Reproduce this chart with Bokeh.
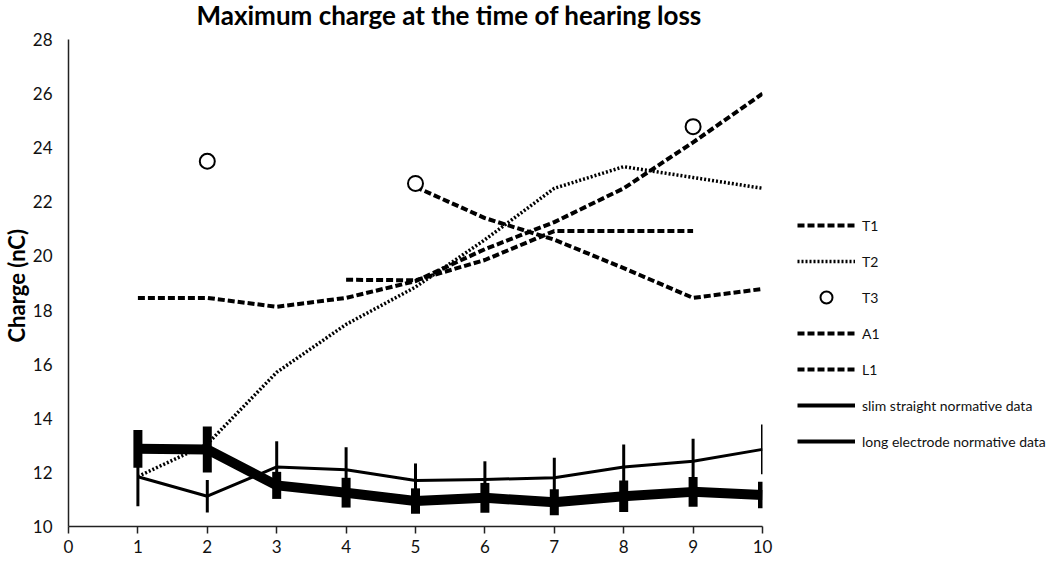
from bokeh.plotting import figure
from bokeh.models import Legend, LegendItem, Range1d, FixedTicker, Label, Title
from bokeh.embed import file_html
from bokeh.resources import INLINE

# ---- data ----
x_all = [1, 2, 3, 4, 5, 6, 7, 8, 9, 10]
t1_x = [1, 2, 3, 4, 5, 6, 7, 8, 9, 10]
t1_y = [18.45, 18.45, 18.12, 18.45, 19.07, 20.25, 21.25, 22.5, 24.2, 26.0]
t2_x = [1, 2, 3, 4, 5, 6, 7, 8, 9, 10]
t2_y = [11.85, 13.05, 15.7, 17.47, 18.85, 20.6, 22.5, 23.3, 22.9, 22.5]
t3_x = [2, 5, 9]
t3_y = [23.5, 22.68, 24.78]
a1_x = [4, 5, 6, 7, 8, 9]
a1_y = [19.12, 19.1, 19.85, 20.92, 20.92, 20.92]
l1_x = [5, 6, 7, 8, 9, 10]
l1_y = [22.55, 21.4, 20.6, 19.55, 18.45, 18.78]
slim_y = [11.84, 11.12, 12.2, 12.1, 11.7, 11.74, 11.8, 12.2, 12.41, 12.85]
slim_err = [1.09, 0.6, 0.95, 0.83, 0.63, 0.67, 0.74, 0.83, 0.83, 0.92]
long_y = [12.87, 12.85, 11.52, 11.25, 10.94, 11.06, 10.9, 11.12, 11.28, 11.16]
long_err = [0.7, 0.85, 0.5, 0.55, 0.47, 0.55, 0.48, 0.58, 0.55, 0.49]
x_ticks = [0, 1, 2, 3, 4, 5, 6, 7, 8, 9, 10]
y_ticks = [10, 12, 14, 16, 18, 20, 22, 24, 26, 28]
title_text = "Maximum charge at the time of hearing loss"
y_label = "Charge (nC)"
names = ["T1", "T2", "T3", "A1", "L1", "slim straight normative data", "long electrode normative data"]

FONT = "Lato"
FRAME_H = 521

# y range extends a little above 28 so that the title can sit inside the frame;
# the axis itself is bounded to 10..28
p = figure(frame_width=694, frame_height=FRAME_H, output_backend="svg", toolbar_location=None,
           x_range=Range1d(0, 10), y_range=Range1d(10, 29.257),
           min_border_left=58, min_border_top=5, min_border_bottom=0, min_border_right=286)
p.background_fill_color = "white"
p.border_fill_color = "white"
p.outline_line_color = None
p.xgrid.visible = False
p.ygrid.visible = False

title = Label(x=128, y=FRAME_H - 9, x_units="screen", y_units="screen", text=title_text,
              text_font=FONT, text_font_size="26px", text_font_style="bold",
              text_color="black", text_align="left", text_baseline="alphabetic")
p.add_layout(title)

# y-axis title as a side title so that it can be placed along the axis
ytitle = Title(text=y_label, text_font=FONT, text_font_size="22px", text_font_style="bold",
               text_color="black", align="left", offset=184, standoff=0)
p.add_layout(ytitle, "left")

for ax in (p.xaxis[0], p.yaxis[0]):
    ax.axis_line_color = "#222222"
    ax.axis_line_width = 1.5
    ax.major_label_text_font = FONT
    ax.major_label_text_font_size = "17px"
    ax.major_label_text_color = "#111111"
    ax.minor_tick_line_color = None

p.xaxis[0].ticker = FixedTicker(ticks=x_ticks)
p.xaxis[0].major_tick_in = 0
p.xaxis[0].major_tick_out = 7
p.xaxis[0].major_tick_line_color = "#222222"
p.xaxis[0].major_tick_line_width = 1.5
p.xaxis[0].major_label_standoff = 6

p.yaxis[0].ticker = FixedTicker(ticks=y_ticks)
p.yaxis[0].bounds = (10, 28)
p.yaxis[0].major_tick_in = 0
p.yaxis[0].major_tick_out = 0
p.yaxis[0].major_label_standoff = 16

# ---- series ----
r_t1 = p.line(t1_x, t1_y, line_color="black", line_width=4, line_dash="7 3", line_join="round")
r_t2 = p.line(t2_x, t2_y, line_color="black", line_width=3.5, line_dash="2 2")
r_t3 = p.scatter(t3_x, t3_y, marker="circle", size=15, fill_color="white", line_color="black", line_width=2)
r_a1 = p.line(a1_x, a1_y, line_color="black", line_width=4, line_dash="7 3", line_join="round")
r_l1 = p.line(l1_x, l1_y, line_color="black", line_width=4, line_dash="7 3", line_join="round")

slim_lo = [v - e for v, e in zip(slim_y, slim_err)]
slim_hi = [v + e for v, e in zip(slim_y, slim_err)]
p.segment(x_all, slim_lo, x_all, slim_hi, line_color="black", line_width=3)
p.line(x_all, slim_y, line_color="black", line_width=3, line_join="round")

long_lo = [v - e for v, e in zip(long_y, long_err)]
long_hi = [v + e for v, e in zip(long_y, long_err)]
p.segment(x_all, long_lo, x_all, long_hi, line_color="black", line_width=9)
p.line(x_all, long_y, line_color="black", line_width=10, line_join="round")

# T3 drawn again on top
p.renderers.remove(r_t3)
p.renderers.append(r_t3)

# legend proxies (outside the visible ranges, so only their legend glyph shows)
lg_slim = p.line([-5, -4], [0, 0], line_color="black", line_width=4)
lg_long = p.line([-5, -4], [0, 0], line_color="black", line_width=4)

items = [LegendItem(label=names[0], renderers=[r_t1]),
         LegendItem(label=names[1], renderers=[r_t2]),
         LegendItem(label=names[2], renderers=[r_t3]),
         LegendItem(label=names[3], renderers=[r_a1]),
         LegendItem(label=names[4], renderers=[r_l1]),
         LegendItem(label=names[5], renderers=[lg_slim]),
         LegendItem(label=names[6], renderers=[lg_long])]

legend = Legend(items=items, location=(35, 70), margin=0, padding=0,
                glyph_width=58, glyph_height=30, label_height=30, spacing=6,
                label_standoff=7, label_text_font=FONT, label_text_font_size="14px",
                label_text_color="#111111",
                background_fill_alpha=0, border_line_color=None)
p.add_layout(legend, "right")

open("out.html", "w").write(file_html(p, INLINE))
